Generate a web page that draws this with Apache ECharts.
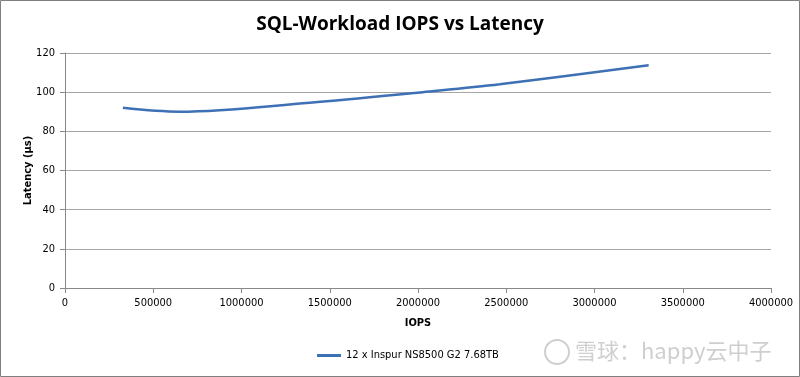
<!DOCTYPE html>
<html>
<head>
<meta charset="utf-8">
<script src="https://cdn.jsdelivr.net/npm/echarts@6/dist/echarts.min.js"></script>
<style>
  html, body { margin: 0; padding: 0; background: #fff; }
  #chart { width: 800px; height: 377px; }
</style>
</head>
<body>
<div id="chart"></div>
<script>
// values
const iops = [328000, 651000, 1387000, 2027000, 2463000, 3307000];
const latency = [92.0, 90.0, 94.6, 100.0, 104.0, 113.7];
const seriesName = "12 x Inspur NS8500 G2 7.68TB";

const chart = echarts.init(document.getElementById("chart"));

const axisFont = { color: "#000", fontSize: 11, fontFamily: "DejaVu Sans Condensed, Liberation Sans, sans-serif" };

chart.setOption({
  animation: false,
  title: {
    text: "SQL-Workload IOPS vs Latency",
    left: "center",
    top: 10,
    textStyle: { fontSize: 19, fontWeight: "bold", color: "#000", fontFamily: "Open Sans, Lato, sans-serif" },
  },
  grid: { left: 65, right: 29, top: 53, bottom: 89 },
  xAxis: {
    type: "value",
    min: 0,
    max: 4000000,
    interval: 500000,
    name: "IOPS",
    nameLocation: "middle",
    nameGap: 30,
    nameTextStyle: { ...axisFont, fontWeight: "bold" },
    axisLine: { lineStyle: { color: "#888" } },
    axisTick: { show: true, length: 5, lineStyle: { color: "#888" } },
    axisLabel: { ...axisFont, margin: 10, formatter: (v) => String(v) },
    splitLine: { show: false },
  },
  yAxis: {
    type: "value",
    min: 0,
    max: 120,
    interval: 20,
    name: "Latency (µs)",
    nameLocation: "middle",
    nameGap: 31,
    nameMoveOverlap: false,
    nameTextStyle: { ...axisFont, fontWeight: "bold" },
    axisLine: { show: true, lineStyle: { color: "#888" } },
    axisTick: { show: true, length: 5, lineStyle: { color: "#888" } },
    axisLabel: { ...axisFont, margin: 10 },
    splitLine: { lineStyle: { color: "#a6a6a6" } },
  },
  legend: {
    bottom: 11,
    left: 312,
    itemWidth: 24,
    itemHeight: 3,
    itemGap: 5,
    icon: "rect",
    textStyle: { color: "#000", fontSize: 11, fontFamily: "DejaVu Sans Condensed, Liberation Sans, sans-serif" },
    data: [seriesName],
  },
  graphic: [
    {
      type: "rect",
      silent: true,
      shape: { x: 0.5, y: 0.5, width: 799, height: 376 },
      style: { fill: "none", stroke: "#7f7f7f", lineWidth: 1 },
    },
    {
      type: "circle",
      silent: true,
      shape: { cx: 557, cy: 352, r: 12 },
      style: { fill: "none", stroke: "#cfcfcf", lineWidth: 2 },
    },
    {
      type: "text",
      silent: true,
      x: 575, y: 340,
      style: {
        text: "雪球：happy云中子",
        fill: "#cfcfcf",
        fontSize: 22,
        fontFamily: "Noto Sans CJK SC, sans-serif",
      },
    },
  ],
  series: [
    {
      name: seriesName,
      type: "line",
      data: iops.map((x, i) => [x, latency[i]]),
      smooth: 0.35,
      showSymbol: false,
      lineStyle: { color: "#3e70b5", width: 2.5 },
      itemStyle: { color: "#3e70b5" },
    },
  ],
});
</script>
</body>
</html>
